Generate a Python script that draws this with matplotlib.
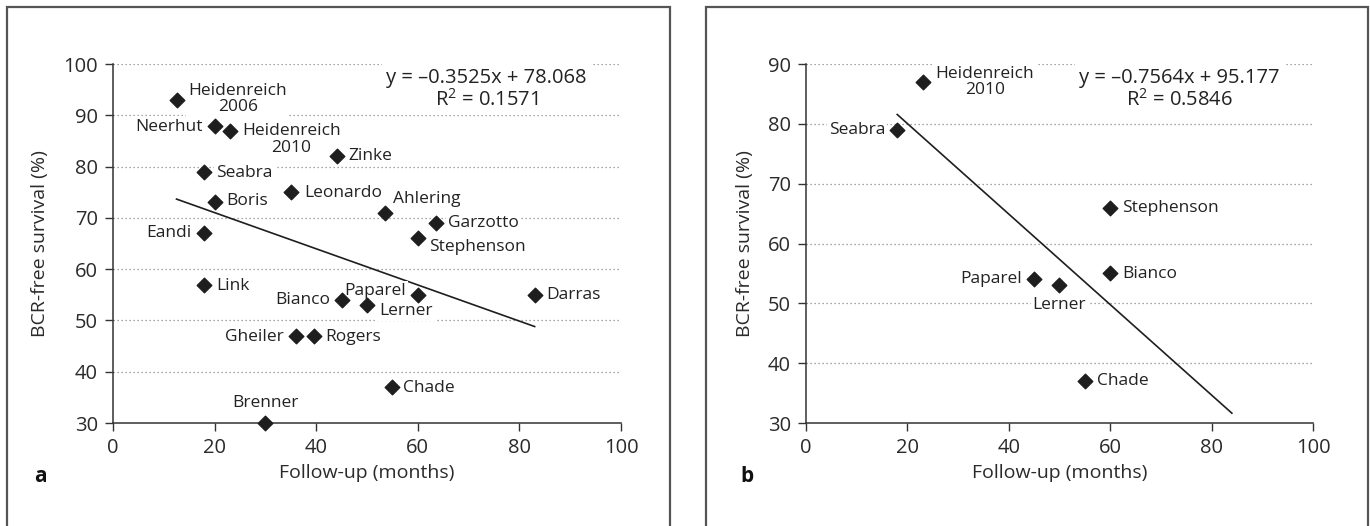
import numpy as np
import matplotlib.pyplot as plt
from matplotlib.patches import Rectangle

plt.rcParams['font.family'] = ['Open Sans', 'DejaVu Sans']
plt.rcParams['mathtext.fontset'] = 'custom'
plt.rcParams['mathtext.rm'] = 'Open Sans'
plt.rcParams['mathtext.it'] = 'Open Sans'
plt.rcParams['mathtext.default'] = 'regular'

# Panel a: all studies
names_a = ["Heidenreich\n2006", "Neerhut", "Heidenreich\n2010", "Zinke", "Seabra",
           "Leonardo", "Boris", "Ahlering", "Garzotto", "Eandi", "Stephenson",
           "Link", "Bianco", "Paparel", "Lerner", "Darras", "Gheiler", "Rogers",
           "Chade", "Brenner"]
followup_a = [12.5, 20, 23, 44, 18, 35, 20, 53.5, 63.5, 18, 60,
              18, 45, 60, 50, 83, 36, 39.5, 55, 30]
survival_a = [93, 88, 87, 82, 79, 75, 73, 71, 69, 67, 66,
              57, 54, 55, 53, 55, 47, 47, 37, 30]
slope_a, icept_a, r2_a = -0.3525, 78.068, 0.1571

# Panel b: subset
names_b = ["Heidenreich\n2010", "Seabra", "Stephenson", "Bianco", "Paparel",
           "Lerner", "Chade"]
followup_b = [23, 18, 60, 60, 45, 50, 55]
survival_b = [87, 79, 66, 55, 54, 53, 37]
slope_b, icept_b, r2_b = -0.7564, 95.177, 0.5846

# label placement: (dx px, dy px, ha)
place_a = [(12, 1, "left"), (-12, -1, "right"), (12, -9, "left"), (12, 0, "left"),
           (12, -1, "left"), (13, -1, "left"), (12, 1, "left"), (8, 14, "left"),
           (12, 0, "left"), (-13, 0, "right"), (11, -9, "left"), (12, -1, "left"),
           (-11, 0, "right"), (-12, 4, "right"), (12, -6, "left"), (12, 0, "left"),
           (-12, -1, "right"), (12, -1, "left"), (11, -1, "left"), (0, 20, "center")]
place_b = [(13, 0, "left"), (-12, 0, "right"), (12, 0, "left"), (12, -1, "left"),
           (-12, 0, "right"), (0, -20, "center"), (12, 0, "left")]

ink = "#1e1e1e"
fig = plt.figure(figsize=(13.7, 5.26), dpi=100)
ax_a = fig.add_axes([0.0825, 0.1958, 0.3708, 0.6825])
ax_b = fig.add_axes([0.5883, 0.1958, 0.3701, 0.6825])

# panel frames
for x0, x1 in [(7, 670), (706, 1368)]:
    fig.patches.append(Rectangle((x0 / 1370, -0.1), (x1 - x0) / 1370, 1.1 - 7 / 526,
                                 transform=fig.transFigure, fill=False,
                                 edgecolor="#555555", linewidth=1.6))


def draw(ax, names, xs, ys, place, slope, icept, r2, ylim, yticks, eq_xy, letter, lx):
    ax.set_xlim(0, 100)
    ax.set_ylim(*ylim)
    ax.set_xticks(np.arange(0, 101, 20))
    ax.set_yticks(yticks)
    for y in yticks[1:]:
        ax.axhline(y, color="#888888", linewidth=0.9, linestyle=(0, (1, 2.2)), zorder=0)
    for s in ["top", "right"]:
        ax.spines[s].set_visible(False)
    for s in ["left", "bottom"]:
        ax.spines[s].set_color("#333333")
        ax.spines[s].set_linewidth(1.1)
    ax.tick_params(direction="out", length=6, width=1.0, color="#333333",
                   labelsize=14.5, labelcolor="#2a2a2a", pad=5)
    ax.set_xlabel("Follow-up (months)", fontsize=14, color="#2a2a2a", labelpad=4)
    ax.set_ylabel("BCR-free survival (%)", fontsize=14, color="#2a2a2a", labelpad=10)

    ax.scatter(xs, ys, marker="D", s=55, color=ink, zorder=5, clip_on=False)
    lx0, lx1 = min(xs), max(xs)
    if letter == "b":
        lx1 = 84
    ax.plot([lx0, lx1], [slope * lx0 + icept, slope * lx1 + icept],
            color=ink, linewidth=1.2, zorder=2)

    for name, x, y, (dx, dy, ha) in zip(names, xs, ys, place):
        ax.annotate(name, (x, y), xytext=(dx, dy), textcoords="offset pixels",
                    ha=ha, va="center", multialignment="center", fontsize=12.5,
                    color="#222222", linespacing=1.05, zorder=3,
                    bbox=dict(facecolor="white", edgecolor="none", pad=1.5))

    ax.text(eq_xy[0], eq_xy[1],
            f"y = \u2013{abs(slope):.4f}x + {icept:.3f}\nR$^{{2}}$ = {r2:.4f}",
            ha="center", va="center", multialignment="center", fontsize=14.5,
            color="#222222", linespacing=1.05, zorder=3,
            bbox=dict(facecolor="white", edgecolor="none", pad=3))
    fig.text(lx / 1370, 1 - 477 / 526, letter, fontsize=15, fontweight="bold",
             color="#111111", ha="left", va="center")


draw(ax_a, names_a, followup_a, survival_a, place_a, slope_a, icept_a, r2_a,
     (30, 100), list(range(30, 101, 10)), (73.5, 95.1), "a", 34)
draw(ax_b, names_b, followup_b, survival_b, place_b, slope_b, icept_b, r2_b,
     (30, 90), list(range(30, 91, 10)), (73.6, 85.7), "b", 740)

fig.savefig("out.png", dpi=100)
